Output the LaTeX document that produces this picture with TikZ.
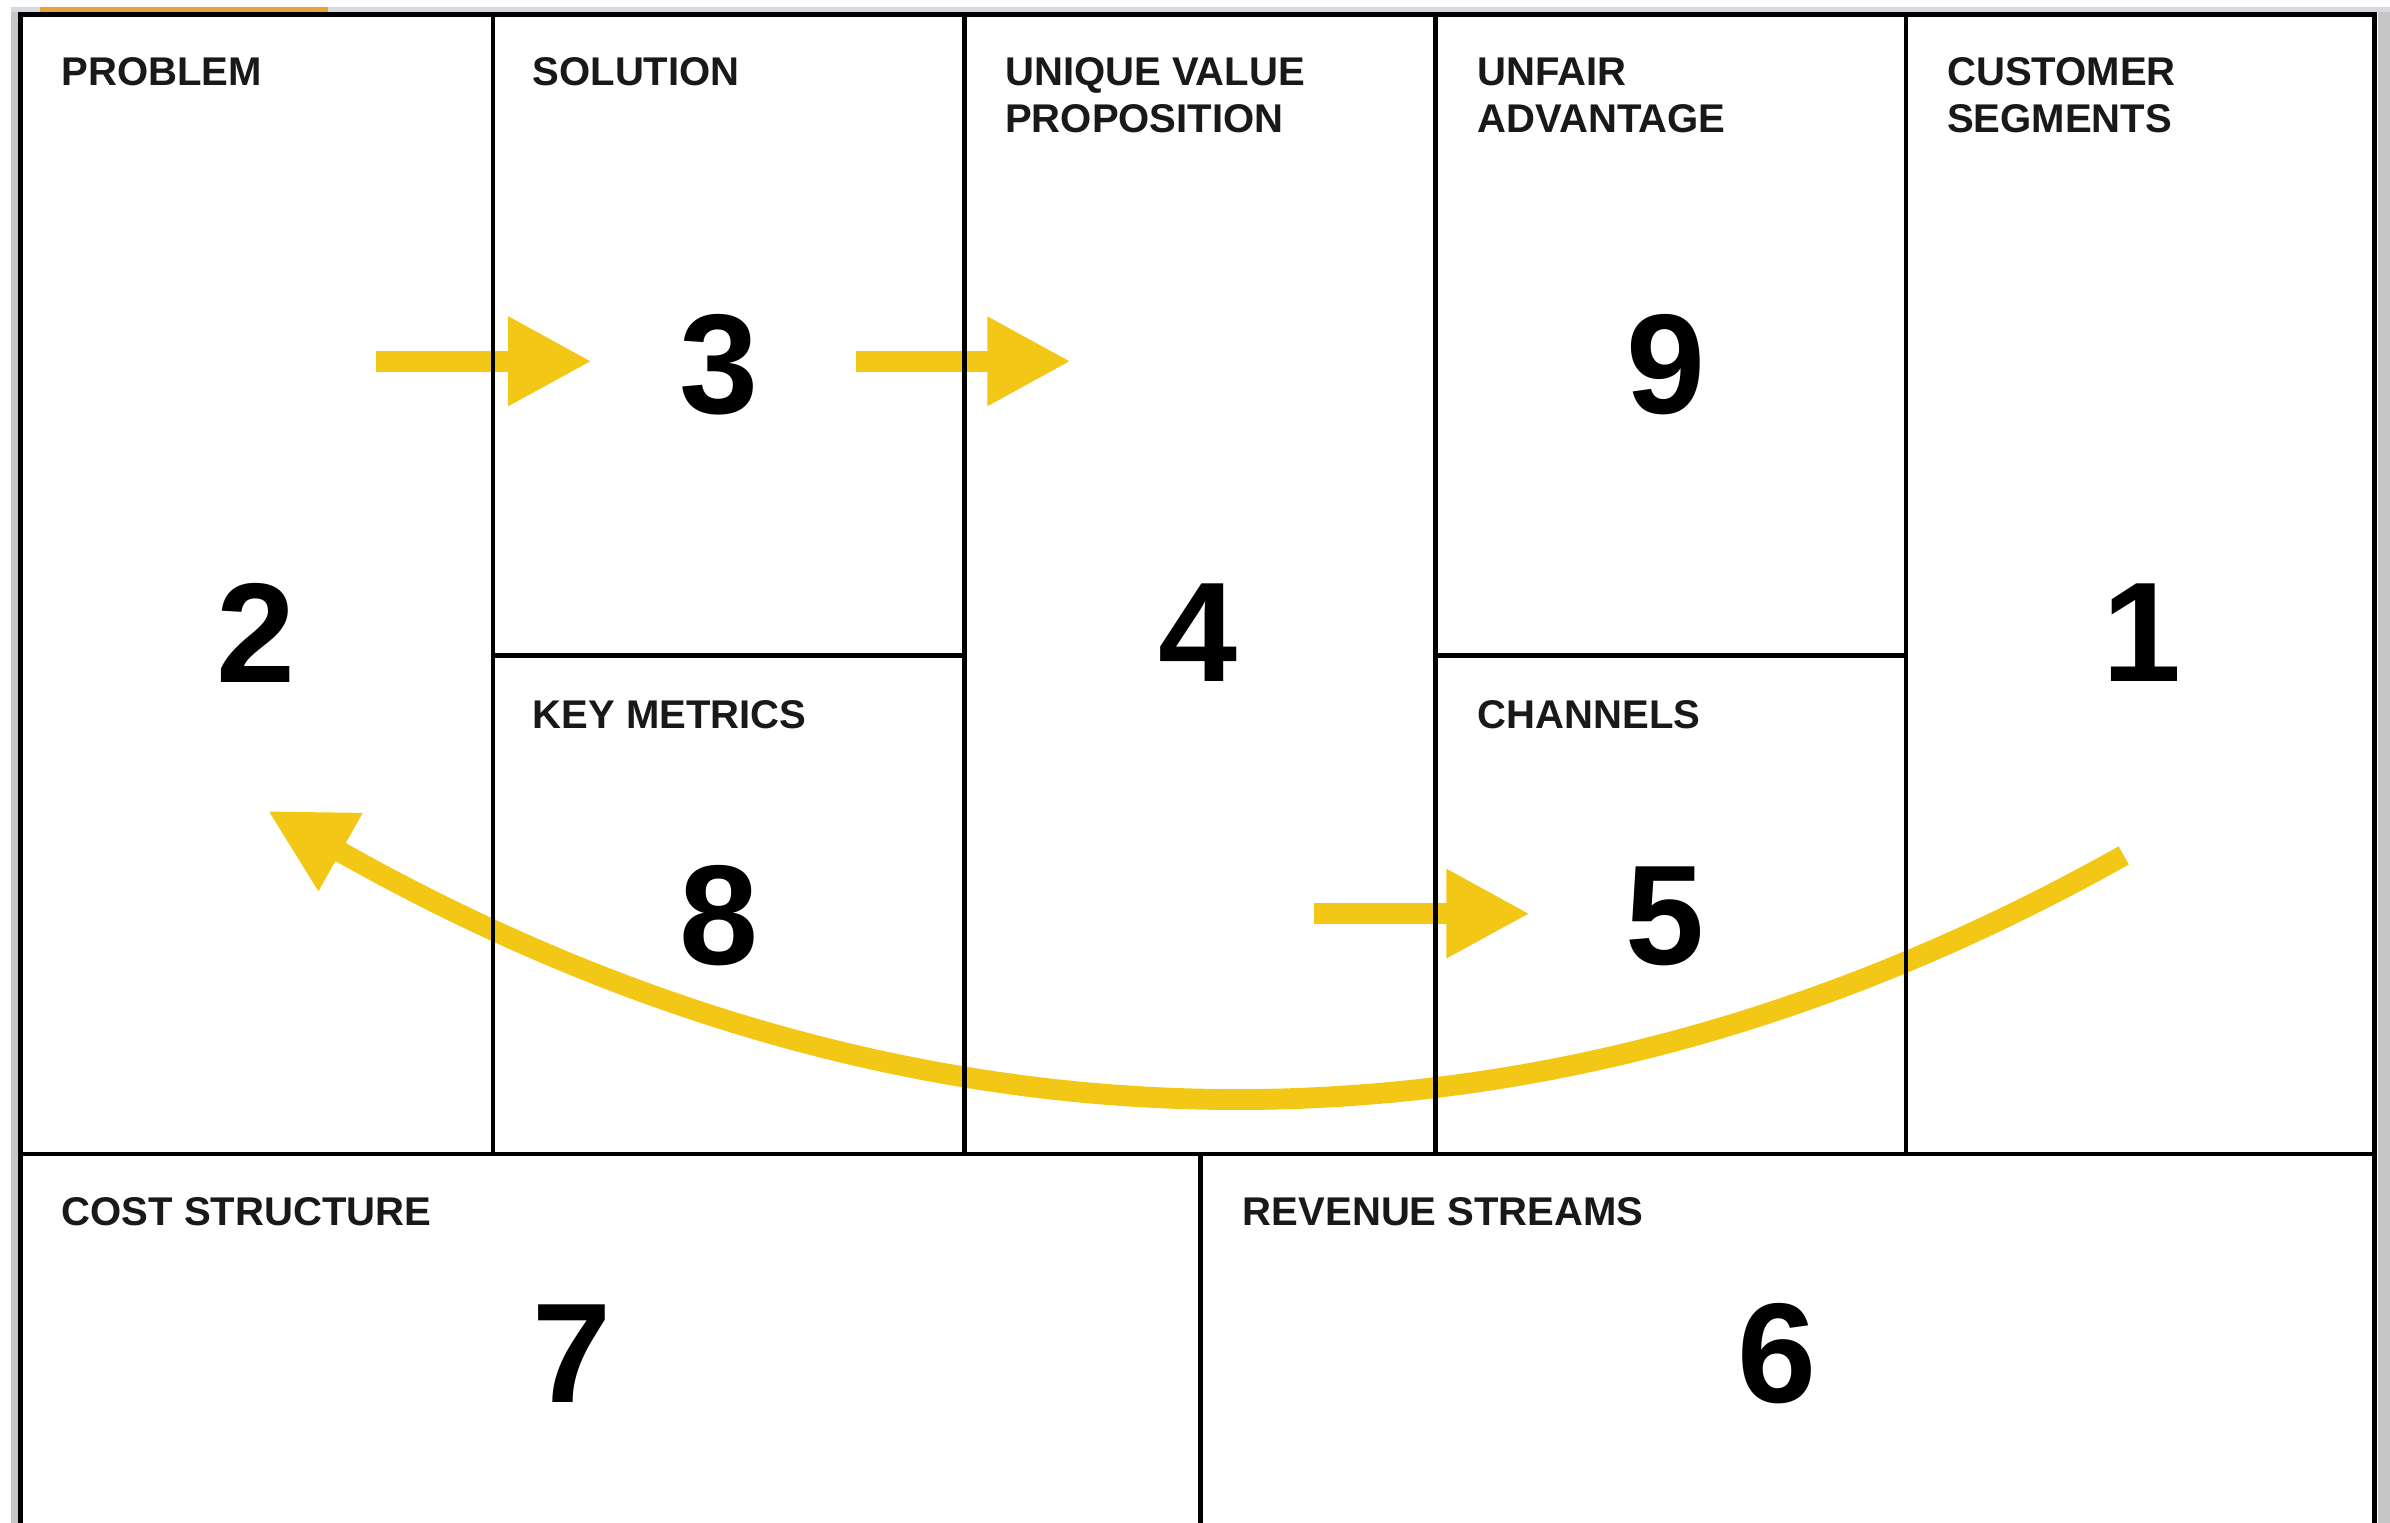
\documentclass[tikz,border=0pt]{standalone}
\usepackage{fontspec}
\setmainfont{Liberation Sans}
\usetikzlibrary{arrows.meta}
\definecolor{flowyellow}{HTML}{F3C715}
\definecolor{sidegray}{HTML}{C6C6C6}
\definecolor{topgray}{HTML}{D8D8E0}
\definecolor{taborange}{HTML}{E8A23E}
\begin{document}
\begin{tikzpicture}[x=0.15242mm, y=-0.15242mm,
    grid/.style={line width=1.35pt, black},
    head/.style={anchor=base west, inner sep=0pt, align=left, text=black!90,
        font=\bfseries\fontsize{11.4}{13.4}\selectfont},
    num/.style={inner sep=0pt, font=\bfseries\fontsize{40.4}{40}\selectfont},
    flow/.style={draw=flowyellow, line width=5.94pt,
        -{Triangle[length=8.38mm, width=8.34mm]}}]
    \useasboundingbox (0,0) rectangle (1568,999);

    % Window edges round the canvas
    \fill[sidegray] (7.5,4.5) rectangle (12,999);
    \fill[sidegray] (1560,4.5) rectangle (1568,999);
    \fill[topgray] (7.5,4.5) rectangle (1568,8);
    \fill[taborange] (26,4.5) rectangle (215,8);

    % Flow between the blocks
    \coordinate (p2s) at (246.7,237);
    \coordinate (p2e) at (388.4,237);
    \coordinate (p3s) at (561.4,237);
    \coordinate (p3e) at (702.7,237);
    \coordinate (p4s) at (862.1,599.4);
    \coordinate (p4e) at (1003.8,599.4);
    \coordinate (p1s) at (1393.3,561.2);
    \coordinate (p1e) at (175.6,531.9);
    \draw[flow] (p2s) -- (p2e);
    \draw[flow] (p3s) -- (p3e);
    \draw[flow] (p4s) -- (p4e);
    \draw[flow] (p1s) .. controls (987.8,789.1) and (580.2,761.1) .. (p1e);

    % Canvas grid (open at the bottom)
    \draw[grid] (13.5,999) -- (13.5,9.5) -- (1558,9.5) -- (1558,999);
    \foreach \x in {323.5,633,942,1250.5} {
        \draw[grid] (\x,9.5) -- (\x,757);
    }
    \draw[grid] (323.5,430) -- (633,430);
    \draw[grid] (942,430) -- (1250.5,430);
    \draw[grid] (13.5,757) -- (1558,757);
    \draw[grid] (787.5,757) -- (787.5,999);

    % Block titles (two-line ones sit on their last line)
    \node[head] (problem) at (40,56) {PROBLEM};
    \node[head] (solution) at (349,56) {SOLUTION};
    \node[head] (value) at (659,87) {UNIQUE VALUE\\PROPOSITION};
    \node[head] (unfair) at (969,87) {UNFAIR\\ADVANTAGE};
    \node[head] (segments) at (1277,87) {CUSTOMER\\SEGMENTS};
    \node[head] (metrics) at (349,478) {KEY METRICS};
    \node[head] (channels) at (969,478) {CHANNELS};
    \node[head] (cost) at (40,804) {COST STRUCTURE};
    \node[head] (revenue) at (815,804) {REVENUE STREAMS};

    % Order of filling in
    \node[num] (n1) at (1405,415) {1};
    \node[num] (n2) at (168,415) {2};
    \node[num] (n3) at (472,239) {3};
    \node[num] (n4) at (786,415) {4};
    \node[num] (n5) at (1092,601) {5};
    \node[num] (n6) at (1166,888) {6};
    \node[num] (n7) at (375,888) {7};
    \node[num] (n8) at (472,601) {8};
    \node[num] (n9) at (1093,239) {9};
\end{tikzpicture}
\end{document}
